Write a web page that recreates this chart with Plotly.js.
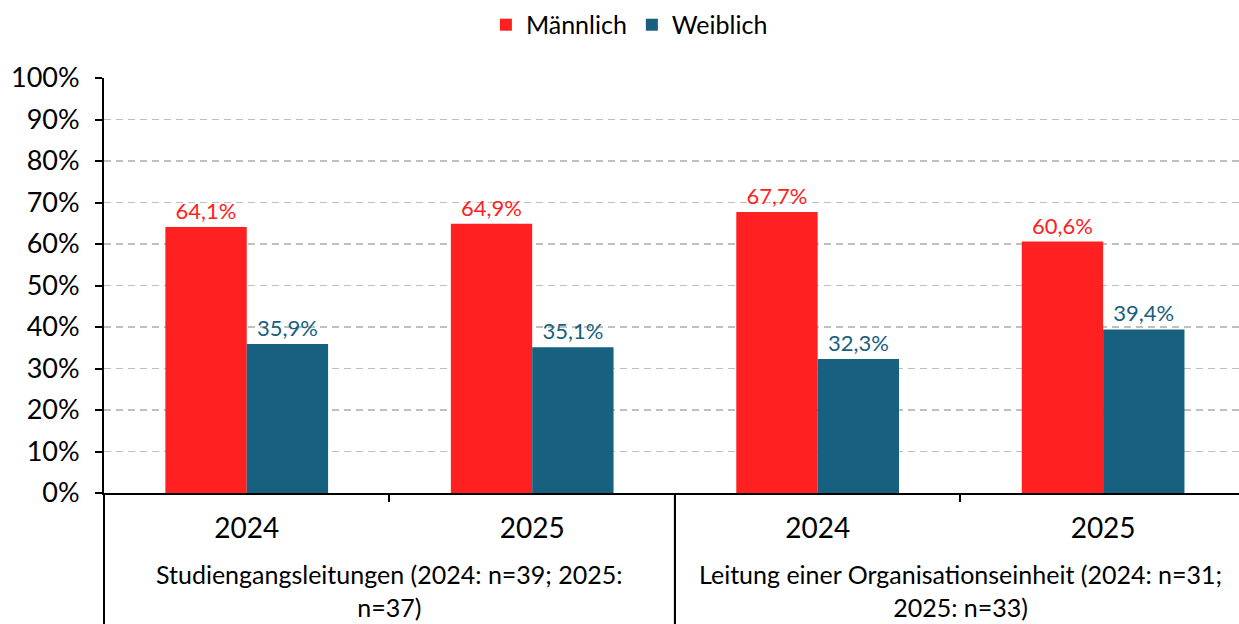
<!DOCTYPE html>
<html><head><meta charset="utf-8">
<script src="https://cdn.plot.ly/plotly-3.0.1.min.js"></script>
<style>html,body{margin:0;padding:0;overflow:hidden;background:#fff}</style>
</head><body><div id="chart" style="width:1239px;height:624px"></div>
<script>
const groupNames = ["Studiengangsleitungen (2024: n=39; 2025:<br>n=37)", "Leitung einer Organisationseinheit (2024: n=31;<br>2025: n=33)"];
const barGroupIndex = [0, 0, 1, 1];
const years = ["2024", "2025", "2024", "2025"];
const maennlich = [0.641, 0.649, 0.677, 0.606];
const weiblich = [0.359, 0.351, 0.323, 0.394];
const seriesNames = ["Männlich", "Weiblich"];
const colors = ["#FF2121", "#17607F"];

const FONT = "Lato, 'Noto Sans', sans-serif";
const xpos = years.map((_, i) => i);
const xRange = [-0.5, 3.476];

const traces = [maennlich, weiblich].map((vals, i) => ({
  type: "bar",
  name: seriesNames[i],
  x: xpos,
  y: vals,
  marker: {color: colors[i]},
  texttemplate: "%{y:.1%}",
  textposition: "outside",
  textfont: {family: FONT, size: 22, color: colors[i]},
  cliponaxis: false,
  hoverinfo: "skip"
}));

// group labels and dividers from group membership
const annotations = [];
const shapes = [];
groupNames.forEach((g, gi) => {
  const idx = xpos.filter((_, i) => barGroupIndex[i] === gi);
  const center = idx.reduce((a, b) => a + b, 0) / idx.length;
  annotations.push({
    text: g, xref: "x", yref: "paper", x: center, y: -0.236,
    xanchor: "center", yanchor: "middle", showarrow: false,
    font: {family: FONT, size: 25, color: "#000"}
  });
  const bounds = [Math.min(...idx) - 0.5, Math.max(...idx) + 0.5];
  bounds.forEach(b => {
    const atStart = b === xRange[0];
    shapes.push({
      type: "line",
      xref: atStart ? "x domain" : "x", x0: atStart ? 0 : b, x1: atStart ? 0 : b,
      yref: "paper", y0: 0, y1: -0.33,
      line: {color: "#000", width: 2}
    });
  });
});

const layout = {
  width: 1239, height: 624,
  margin: {l: 104, r: 0, t: 78, b: 131},
  paper_bgcolor: "#fff", plot_bgcolor: "#fff",
  separators: ",.",
  font: {family: FONT, color: "#000"},
  barmode: "group",
  bargap: 0.43, bargroupgap: 0,
  showlegend: true,
  legend: {
    orientation: "h", xref: "container", yref: "container",
    x: 0.508, xanchor: "center", y: 0.96, yanchor: "middle",
    font: {family: FONT, size: 25, color: "#000"},
    itemclick: false
  },
  xaxis: {
    range: xRange,
    tickmode: "array", tickvals: xpos, ticktext: years,
    showline: true, linecolor: "#000", linewidth: 2,
    ticks: "", ticklabelstandoff: 9,
    minor: {tickmode: "linear", tick0: -0.5, dtick: 1, ticks: "outside", ticklen: 7, tickwidth: 2, tickcolor: "#000", showgrid: false},
    tickfont: {family: FONT, size: 28, color: "#000"},
    showgrid: false, zeroline: false
  },
  yaxis: {
    range: [0, 1], dtick: 0.1, tickformat: ".0%",
    showline: true, linecolor: "#000", linewidth: 2,
    ticks: "outside", ticklen: 7, tickwidth: 2, tickcolor: "#000",
    ticklabelstandoff: 10,
    tickfont: {family: FONT, size: 27, color: "#000"},
    showgrid: true, gridcolor: "#BFBFBF", gridwidth: 1.5, griddash: "7px,5px",
    zeroline: false
  },
  annotations: annotations,
  shapes: shapes
};

Plotly.newPlot("chart", traces, layout, {displayModeBar: false, staticPlot: true});
</script></body></html>
